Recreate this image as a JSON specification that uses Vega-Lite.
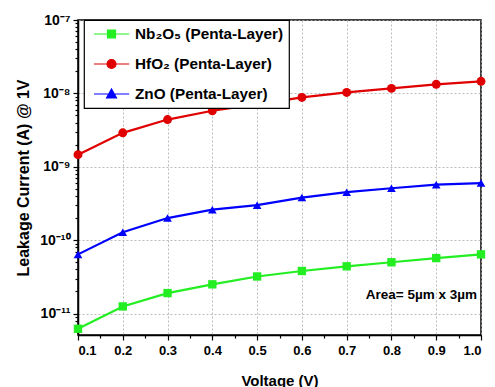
{
  "$schema": "https://vega.github.io/schema/vega-lite/v6.json",
  "width": 403,
  "height": 315,
  "autosize": {"type": "none"},
  "padding": {"left": 78, "top": 20, "right": 14, "bottom": 52},
  "background": "white",
  "config": {
    "font": "Liberation Sans",
    "view": {"stroke": "black", "strokeWidth": 1.5},
    "axis": {
      "labelFont": "Liberation Sans", "labelFontWeight": "bold", "labelFontSize": 13, "labelColor": "black",
      "titleFont": "Liberation Sans", "titleFontWeight": "bold", "titleFontSize": 15, "titleColor": "black",
      "domainColor": "black", "domainWidth": 1.5, "tickColor": "black", "tickWidth": 1.2,
      "gridColor": "#aaaaaa", "gridDash": [2, 2], "gridWidth": 0.8
    },
    "legend": {
      "labelFont": "Liberation Sans", "labelFontWeight": "bold", "labelFontSize": 15.3, "labelColor": "black",
      "strokeColor": "black", "strokeWidth": 1.2, "fillColor": "white", "padding": 5, "symbolOpacity": 1
    }
  },
  "data": {"values": [
    {"V": 0.1, "I": 6.2e-12, "s": "Nb₂O₅ (Penta-Layer)"},
    {"V": 0.2, "I": 1.25e-11, "s": "Nb₂O₅ (Penta-Layer)"},
    {"V": 0.3, "I": 1.9e-11, "s": "Nb₂O₅ (Penta-Layer)"},
    {"V": 0.4, "I": 2.5e-11, "s": "Nb₂O₅ (Penta-Layer)"},
    {"V": 0.5, "I": 3.2e-11, "s": "Nb₂O₅ (Penta-Layer)"},
    {"V": 0.6, "I": 3.8e-11, "s": "Nb₂O₅ (Penta-Layer)"},
    {"V": 0.7, "I": 4.4e-11, "s": "Nb₂O₅ (Penta-Layer)"},
    {"V": 0.8, "I": 5.0e-11, "s": "Nb₂O₅ (Penta-Layer)"},
    {"V": 0.9, "I": 5.7e-11, "s": "Nb₂O₅ (Penta-Layer)"},
    {"V": 1.0, "I": 6.4e-11, "s": "Nb₂O₅ (Penta-Layer)"},
    {"V": 0.1, "I": 1.46e-9, "s": "HfO₂ (Penta-Layer)"},
    {"V": 0.2, "I": 2.9e-9, "s": "HfO₂ (Penta-Layer)"},
    {"V": 0.3, "I": 4.4e-9, "s": "HfO₂ (Penta-Layer)"},
    {"V": 0.4, "I": 5.8e-9, "s": "HfO₂ (Penta-Layer)"},
    {"V": 0.5, "I": 7.1e-9, "s": "HfO₂ (Penta-Layer)"},
    {"V": 0.6, "I": 8.8e-9, "s": "HfO₂ (Penta-Layer)"},
    {"V": 0.7, "I": 1.03e-8, "s": "HfO₂ (Penta-Layer)"},
    {"V": 0.8, "I": 1.17e-8, "s": "HfO₂ (Penta-Layer)"},
    {"V": 0.9, "I": 1.33e-8, "s": "HfO₂ (Penta-Layer)"},
    {"V": 1.0, "I": 1.46e-8, "s": "HfO₂ (Penta-Layer)"},
    {"V": 0.1, "I": 6.4e-11, "s": "ZnO (Penta-Layer)"},
    {"V": 0.2, "I": 1.28e-10, "s": "ZnO (Penta-Layer)"},
    {"V": 0.3, "I": 2.0e-10, "s": "ZnO (Penta-Layer)"},
    {"V": 0.4, "I": 2.6e-10, "s": "ZnO (Penta-Layer)"},
    {"V": 0.5, "I": 3.0e-10, "s": "ZnO (Penta-Layer)"},
    {"V": 0.6, "I": 3.8e-10, "s": "ZnO (Penta-Layer)"},
    {"V": 0.7, "I": 4.5e-10, "s": "ZnO (Penta-Layer)"},
    {"V": 0.8, "I": 5.1e-10, "s": "ZnO (Penta-Layer)"},
    {"V": 0.9, "I": 5.7e-10, "s": "ZnO (Penta-Layer)"},
    {"V": 1.0, "I": 6.0e-10, "s": "ZnO (Penta-Layer)"}
  ]},
  "resolve": {"axis": {"x": "independent", "y": "independent"}},
  "layer": [
    {
      "mark": {"type": "line", "strokeWidth": 2.2},
      "encoding": {
        "x": {"field": "V", "type": "quantitative", "scale": {"domain": [0.1, 1.0], "nice": false, "zero": false},
          "axis": {"orient": "bottom", "values": [0.1,0.2,0.3,0.4,0.5,0.6,0.7,0.8,0.9,1.0], "format": ".1f", "tickSize": 5, "labelPadding": 4, "title": "Voltage (V)", "titlePadding": 16, "grid": true}},
        "y": {"field": "I", "type": "quantitative", "scale": {"type": "log", "domain": [5.1e-12, 1e-7], "nice": false},
          "axis": {"orient": "left", "values": [1e-11, 1e-10, 1e-9, 1e-8, 1e-7], "tickSize": 5, "labelPadding": 3, "labelFontSize": 14,
            "labelExpr": "'10' + {'-7':'⁻⁷','-8':'⁻⁸','-9':'⁻⁹','-10':'⁻¹⁰','-11':'⁻¹¹'}['' + round(log(datum.value)/LN10)]",
            "title": "Leakage Current (A) @ 1V", "titleFontSize": 16, "titlePadding": 8, "grid": true}},
        "color": {"field": "s", "type": "nominal",
          "scale": {"domain": ["Nb₂O₅ (Penta-Layer)", "HfO₂ (Penta-Layer)", "ZnO (Penta-Layer)"], "range": ["#22ee22", "#e00000", "#0000ff"]},
          "legend": {"orient": "none", "legendX": 6, "legendY": 0, "title": null, "symbolSize": 256, "labelOffset": 28, "rowPadding": 12,
            "symbolStrokeWidth": 1.2,
            "symbolFillColor": {"expr": "scale('color', datum.value)"},
            "symbolType": {"expr": "datum.value === 'Nb₂O₅ (Penta-Layer)' ? 'M-0.5,0H3.9M1.19,-0.5H2.19V0.5H1.19Z' : datum.value === 'HfO₂ (Penta-Layer)' ? 'M-0.5,0H3.9M1.13,0A0.56,0.56,0,1,0,2.25,0A0.56,0.56,0,1,0,1.13,0Z' : 'M-0.5,0H3.9M1.69,-0.62L2.31,0.5H1.07Z'"}}}
      }
    },
    {
      "transform": [{"filter": "datum.s === 'Nb₂O₅ (Penta-Layer)'"}],
      "mark": {"type": "point", "filled": true, "opacity": 1, "size": 70, "shape": "square", "color": "#22ee22"},
      "encoding": {
        "x": {"field": "V", "type": "quantitative", "axis": {"orient": "bottom", "values": [0.15,0.25,0.35,0.45,0.55,0.65,0.75,0.85,0.95], "tickSize": 3, "labels": false, "domain": false, "grid": false, "title": null}},
        "y": {"field": "I", "type": "quantitative", "axis": {"orient": "left", "domain": false, "grid": false, "labels": false, "title": null, "tickSize": 3,
          "values": [6e-12,7e-12,8e-12,9e-12,2e-11,3e-11,4e-11,5e-11,6e-11,7e-11,8e-11,9e-11,2e-10,3e-10,4e-10,5e-10,6e-10,7e-10,8e-10,9e-10,2e-9,3e-9,4e-9,5e-9,6e-9,7e-9,8e-9,9e-9,2e-8,3e-8,4e-8,5e-8,6e-8,7e-8,8e-8,9e-8]}}
      }
    },
    {
      "transform": [{"filter": "datum.s === 'HfO₂ (Penta-Layer)'"}],
      "mark": {"type": "point", "filled": true, "opacity": 1, "size": 80, "shape": "circle", "color": "#e00000"},
      "encoding": {
        "x": {"field": "V", "type": "quantitative", "axis": null},
        "y": {"field": "I", "type": "quantitative", "axis": null}
      }
    },
    {
      "transform": [{"filter": "datum.s === 'ZnO (Penta-Layer)'"}],
      "mark": {"type": "point", "filled": true, "opacity": 1, "size": 75, "shape": "triangle-up", "color": "#0000ff"},
      "encoding": {
        "x": {"field": "V", "type": "quantitative", "axis": null},
        "y": {"field": "I", "type": "quantitative", "axis": null}
      }
    },
    {
      "data": {"values": [{}]},
      "mark": {"type": "text", "align": "right", "baseline": "middle", "dx": -4, "font": "Liberation Sans", "fontWeight": "bold", "fontSize": 13.5, "color": "black"},
      "encoding": {
        "x": {"datum": 1.0, "type": "quantitative", "axis": null},
        "y": {"datum": 1.77e-11, "type": "quantitative", "axis": null},
        "text": {"datum": "Area= 5µm x 3µm"}
      }
    }
  ]
}
